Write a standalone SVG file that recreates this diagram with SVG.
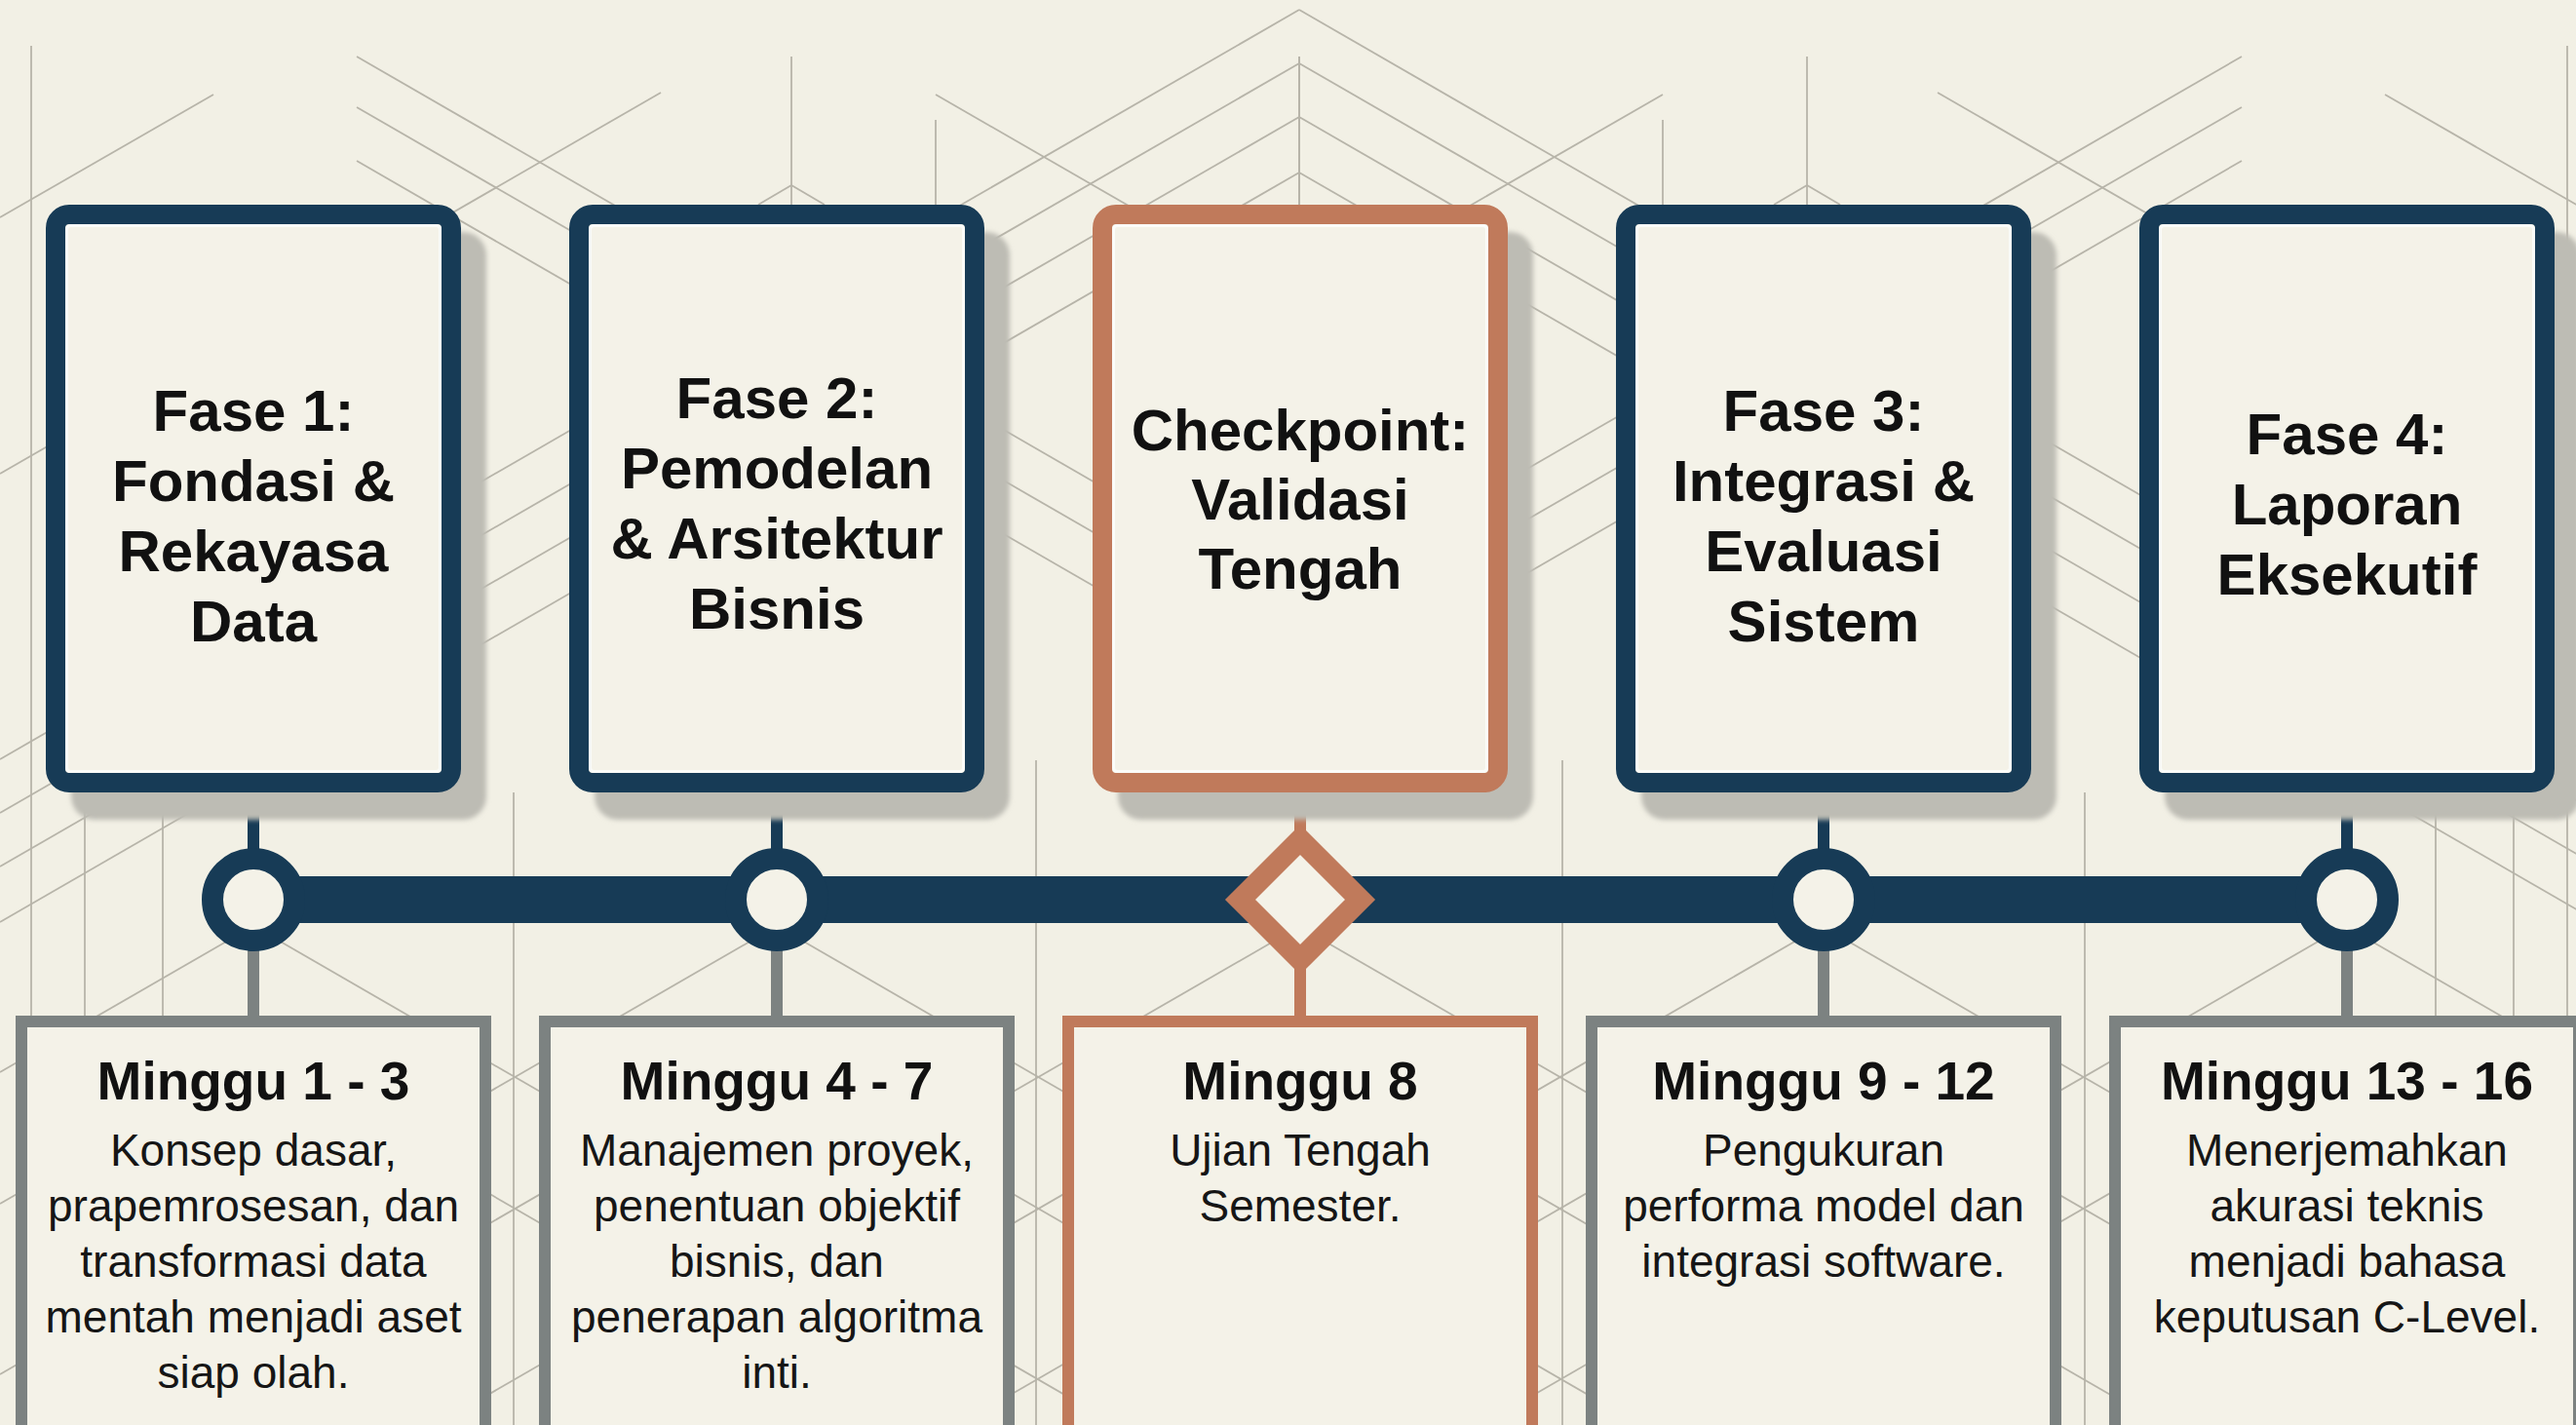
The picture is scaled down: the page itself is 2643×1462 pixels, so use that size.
<svg xmlns="http://www.w3.org/2000/svg" xmlns:xlink="http://www.w3.org/1999/xlink" width="2643" height="1462" viewBox="0 0 2643 1462">
  <defs>
    <style>
      .bg { fill: #F2F0E5; }
      .shadow { fill: #BDBCB4; filter: url(#soft); }
      .card { fill: #F4F2E8; stroke-width: 20; }
      .card.navy { stroke: #173B56; }
      .card.copper { stroke: #C07A5B; }
      .hl { fill: none; stroke: #FBFCF9; stroke-width: 3; }
      .week { fill: #F4F2E8; stroke-width: 12; }
      .week.grey { stroke: #7C8281; }
      .week.copper { stroke: #C07A5B; }
      .ring { fill: #F4F2E8; stroke: #173B56; stroke-width: 22; }
      .gem { fill: #F4F2E8; stroke: #C07A5B; stroke-width: 22; stroke-linejoin: miter; }
      .stem { stroke-width: 12; fill: none; }
      .stem.navy { stroke: #173B56; }
      .stem.grey { stroke: #7C8281; }
      .stem.copper { stroke: #C07A5B; }
      .title { font-family: "Liberation Sans", Arial, sans-serif; font-weight: bold; font-size: 60px; fill: #111111; text-anchor: middle; }
      .wk { font-family: "Liberation Sans", Arial, sans-serif; font-weight: bold; font-size: 55px; fill: #111111; text-anchor: middle; }
      .body { font-family: "Liberation Sans", Arial, sans-serif; font-size: 46px; fill: #161616; text-anchor: middle; }
    </style>
    <filter id="soft" x="-10%" y="-10%" width="120%" height="120%">
      <feGaussianBlur stdDeviation="2.5"/>
    </filter>
    <!-- left half of the line pattern; mirrored about x = 1333 -->
    <g id="pattern-half" stroke="#B7B4A9" stroke-width="1.8" fill="none">
      <line x1="32" y1="47" x2="32" y2="1462"/>
      <line x1="87" y1="700" x2="87" y2="1462"/>
      <line x1="167" y1="700" x2="167" y2="1462"/>
      <line x1="527" y1="813" x2="527" y2="1462"/>
      <line x1="1063" y1="780" x2="1063" y2="1462"/>
      <line x1="812" y1="58" x2="812" y2="215"/>
      <line x1="960" y1="123" x2="960" y2="215"/>
      <line x1="1333" y1="58" x2="1333" y2="215"/>
      <line x1="812" y1="190" x2="778" y2="210"/>
      <line x1="812" y1="190" x2="846" y2="210"/>
      <line x1="1333" y1="10" x2="0" y2="779"/>
      <line x1="1333" y1="65" x2="0" y2="834"/>
      <line x1="1333" y1="120" x2="0" y2="889"/>
      <line x1="1333" y1="177" x2="0" y2="946"/>
      <line x1="366" y1="58" x2="1333" y2="616"/>
      <line x1="366" y1="110" x2="1333" y2="668"/>
      <line x1="366" y1="165" x2="1333" y2="723"/>
      <line x1="219" y1="97" x2="0" y2="223"/>
      <line x1="678" y1="95" x2="0" y2="486"/>
      <line x1="960" y1="97" x2="1333" y2="312"/>
      <line x1="260" y1="950" x2="0" y2="1100"/>
      <line x1="260" y1="950" x2="1146" y2="1462"/>
      <line x1="797" y1="950" x2="0" y2="1410"/>
      <line x1="797" y1="950" x2="1683" y2="1462"/>
      <line x1="1334" y1="950" x2="447" y2="1462"/>
      <line x1="260" y1="1085" x2="0" y2="1235"/>
      <line x1="260" y1="1085" x2="913" y2="1462"/>
      <line x1="797" y1="1085" x2="144" y2="1462"/>
      <line x1="797" y1="1085" x2="1450" y2="1462"/>
      <line x1="1334" y1="1085" x2="681" y2="1462"/>
    </g>
  </defs>

  <rect class="bg" x="0" y="0" width="2643" height="1462"/>

  <!-- faint drafting lines behind the timeline -->
  <g id="backdrop">
    <use xlink:href="#pattern-half"/>
    <use xlink:href="#pattern-half" transform="matrix(-1 0 0 1 2666 0)"/>
  </g>

  <!-- connectors: stems and the main timeline bar -->
  <g id="connectors">
    <rect x="260" y="899" width="2148" height="48" fill="#173B56"/>
    <line class="stem navy" x1="260" y1="813" x2="260" y2="885"/>
    <line class="stem navy" x1="797" y1="813" x2="797" y2="885"/>
    <line class="stem copper" x1="1334" y1="813" x2="1334" y2="855"/>
    <line class="stem navy" x1="1871" y1="813" x2="1871" y2="885"/>
    <line class="stem navy" x1="2408" y1="813" x2="2408" y2="885"/>
    <line class="stem grey" x1="260" y1="962" x2="260" y2="1044"/>
    <line class="stem grey" x1="797" y1="962" x2="797" y2="1044"/>
    <line class="stem copper" x1="1334" y1="992" x2="1334" y2="1044"/>
    <line class="stem grey" x1="1871" y1="962" x2="1871" y2="1044"/>
    <line class="stem grey" x1="2408" y1="962" x2="2408" y2="1044"/>
  </g>

  <!-- phase cards -->
  <g id="phase-1">
    <rect class="shadow" x="73" y="238" width="426" height="603" rx="24"/>
    <rect class="card navy" x="57" y="220" width="406" height="583" rx="14"/>
    <rect class="hl" x="68.5" y="231.5" width="383" height="560" rx="4"/>
    <text class="title"><tspan x="260" y="442">Fase 1:</tspan><tspan x="260" y="514">Fondasi &amp;</tspan><tspan x="260" y="586">Rekayasa</tspan><tspan x="260" y="658">Data</tspan></text>
  </g>
  <g id="phase-2">
    <rect class="shadow" x="610" y="238" width="426" height="603" rx="24"/>
    <rect class="card navy" x="594" y="220" width="406" height="583" rx="14"/>
    <rect class="hl" x="605.5" y="231.5" width="383" height="560" rx="4"/>
    <text class="title"><tspan x="797" y="429">Fase 2:</tspan><tspan x="797" y="501">Pemodelan</tspan><tspan x="797" y="573">&amp; Arsitektur</tspan><tspan x="797" y="645">Bisnis</tspan></text>
  </g>
  <g id="checkpoint">
    <rect class="shadow" x="1147" y="238" width="426" height="603" rx="24"/>
    <rect class="card copper" x="1131" y="220" width="406" height="583" rx="14"/>
    <rect class="hl" x="1142.5" y="231.5" width="383" height="560" rx="4"/>
    <text class="title"><tspan x="1334" y="462">Checkpoint:</tspan><tspan x="1334" y="533">Validasi</tspan><tspan x="1334" y="604">Tengah</tspan></text>
  </g>
  <g id="phase-3">
    <rect class="shadow" x="1684" y="238" width="426" height="603" rx="24"/>
    <rect class="card navy" x="1668" y="220" width="406" height="583" rx="14"/>
    <rect class="hl" x="1679.5" y="231.5" width="383" height="560" rx="4"/>
    <text class="title"><tspan x="1871" y="442">Fase 3:</tspan><tspan x="1871" y="514">Integrasi &amp;</tspan><tspan x="1871" y="586">Evaluasi</tspan><tspan x="1871" y="658">Sistem</tspan></text>
  </g>
  <g id="phase-4">
    <rect class="shadow" x="2221" y="238" width="426" height="603" rx="24"/>
    <rect class="card navy" x="2205" y="220" width="406" height="583" rx="14"/>
    <rect class="hl" x="2216.5" y="231.5" width="383" height="560" rx="4"/>
    <text class="title"><tspan x="2408" y="466">Fase 4:</tspan><tspan x="2408" y="538">Laporan</tspan><tspan x="2408" y="610">Eksekutif</tspan></text>
  </g>

  <!-- timeline markers -->
  <g id="marker-1"><circle class="ring" cx="260" cy="923" r="42"/></g>
  <g id="marker-2"><circle class="ring" cx="797" cy="923" r="42"/></g>
  <g id="marker-checkpoint"><path class="gem" d="M1334 861.5 L1395.5 923 L1334 984.5 L1272.5 923 Z"/></g>
  <g id="marker-3"><circle class="ring" cx="1871" cy="923" r="42"/></g>
  <g id="marker-4"><circle class="ring" cx="2408" cy="923" r="42"/></g>

  <!-- week cards -->
  <g id="weeks-1-3">
    <rect class="week grey" x="22" y="1048" width="476" height="460"/>
    <text class="wk" x="260" y="1128">Minggu 1 - 3</text>
    <text class="body"><tspan x="260" y="1196">Konsep dasar,</tspan><tspan x="260" y="1253">prapemrosesan, dan</tspan><tspan x="260" y="1310">transformasi data</tspan><tspan x="260" y="1367">mentah menjadi aset</tspan><tspan x="260" y="1424">siap olah.</tspan></text>
  </g>
  <g id="weeks-4-7">
    <rect class="week grey" x="559" y="1048" width="476" height="460"/>
    <text class="wk" x="797" y="1128">Minggu 4 - 7</text>
    <text class="body"><tspan x="797" y="1196">Manajemen proyek,</tspan><tspan x="797" y="1253">penentuan objektif</tspan><tspan x="797" y="1310">bisnis, dan</tspan><tspan x="797" y="1367">penerapan algoritma</tspan><tspan x="797" y="1424">inti.</tspan></text>
  </g>
  <g id="week-8">
    <rect class="week copper" x="1096" y="1048" width="476" height="460"/>
    <text class="wk" x="1334" y="1128">Minggu 8</text>
    <text class="body"><tspan x="1334" y="1196">Ujian Tengah</tspan><tspan x="1334" y="1253">Semester.</tspan></text>
  </g>
  <g id="weeks-9-12">
    <rect class="week grey" x="1633" y="1048" width="476" height="460"/>
    <text class="wk" x="1871" y="1128">Minggu 9 - 12</text>
    <text class="body"><tspan x="1871" y="1196">Pengukuran</tspan><tspan x="1871" y="1253">performa model dan</tspan><tspan x="1871" y="1310">integrasi software.</tspan></text>
  </g>
  <g id="weeks-13-16">
    <rect class="week grey" x="2170" y="1048" width="476" height="460"/>
    <text class="wk" x="2408" y="1128">Minggu 13 - 16</text>
    <text class="body"><tspan x="2408" y="1196">Menerjemahkan</tspan><tspan x="2408" y="1253">akurasi teknis</tspan><tspan x="2408" y="1310">menjadi bahasa</tspan><tspan x="2408" y="1367">keputusan C-Level.</tspan></text>
  </g>
</svg>
